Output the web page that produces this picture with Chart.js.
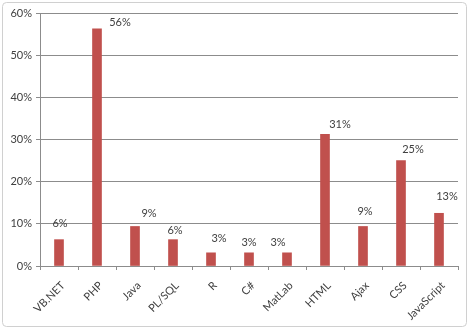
<!DOCTYPE html>
<html>
<head>
<meta charset="utf-8">
<script src="https://cdn.jsdelivr.net/npm/chart.js@4/dist/chart.umd.min.js"></script>
<style>
  html, body { margin: 0; padding: 0; background: #ffffff; }
  #wrap { width: 469px; height: 329px; position: relative; }
</style>
</head>
<body>
<div id="wrap"><canvas id="c" width="469" height="329"></canvas></div>
<script>
const categories = ["VB.NET", "PHP", "Java", "PL/SQL", "R", "C#", "MatLab", "HTML", "Ajax", "CSS", "JavaScript"];
const shareValues = [6.25, 56.25, 9.375, 6.25, 3.125, 3.125, 3.125, 31.25, 9.375, 25, 12.5];
const valueLabels = ["6%", "56%", "9%", "6%", "3%", "3%", "3%", "31%", "9%", "25%", "13%"];
const yTickLabels = ["0%", "10%", "20%", "30%", "40%", "50%", "60%"];

const FONT = "Lato, 'Open Sans', 'Liberation Sans', sans-serif";
const TEXT = "#404040";

const frame = {
  id: 'frame',
  beforeDraw(chart) {
    const c = chart.ctx;
    c.save();
    c.fillStyle = '#ffffff';
    c.fillRect(0, 0, chart.width, chart.height);
    c.strokeStyle = '#d0d0d0';
    c.lineWidth = 1;
    const x = 2.5, y = 2.5, w = chart.width - 5, h = chart.height - 5, r = 4;
    c.beginPath();
    c.moveTo(x + r, y);
    c.arcTo(x + w, y, x + w, y + h, r);
    c.arcTo(x + w, y + h, x, y + h, r);
    c.arcTo(x, y + h, x, y, r);
    c.arcTo(x, y, x + w, y, r);
    c.closePath();
    c.stroke();
    c.restore();
  }
};

const barLabels = {
  id: 'barLabels',
  afterDatasetsDraw(chart, args, opts) {
    const c = chart.ctx;
    const meta = chart.getDatasetMeta(0);
    c.save();
    c.font = "11px " + FONT;
    c.fillStyle = TEXT;
    c.textAlign = 'center';
    c.textBaseline = 'middle';
    meta.data.forEach((bar, i) => {
      const off = opts.offsets[i] || [0, -12];
      c.fillText(valueLabels[i], bar.x + off[0], bar.y + off[1]);
    });
    c.restore();
  }
};

new Chart(document.getElementById('c'), {
  type: 'bar',
  data: {
    labels: categories,
    datasets: [{
      data: shareValues,
      backgroundColor: '#c0504d',
      borderWidth: 0,
      barThickness: 9
    }]
  },
  plugins: [frame, barLabels],
  options: {
    responsive: false,
    devicePixelRatio: 1,
    animation: false,
    layout: { padding: { left: 0, right: 11, top: 13, bottom: 0 } },
    plugins: {
      legend: { display: false },
      tooltip: { enabled: false },
      barLabels: {
        offsets: [[1, -16], [23, -6], [14, -13], [2, -9], [8, -14], [0, -10], [-9, -10], [15, -10], [2, -15], [12, -11], [8, -17]]
      }
    },
    scales: {
      y: {
        min: 0, max: 60,
        afterFit(s) { s.width = 40; },
        ticks: {
          stepSize: 10,
          color: TEXT,
          font: { size: 11, family: FONT },
          padding: 4,
          callback: (v) => yTickLabels[Math.round(v / 10)]
        },
        grid: { color: '#8c8c8c', lineWidth: 1, tickLength: 4, drawTicks: true },
        border: { display: true, color: '#8c8c8c' }
      },
      x: {
        afterFit(s) { s.height = 63; },
        ticks: {
          color: TEXT,
          font: { size: 11, family: FONT },
          minRotation: 45, maxRotation: 45,
          autoSkip: false,
          padding: 9,
          labelOffset: 4
        },
        grid: { offset: true, drawOnChartArea: false, drawTicks: true, tickLength: 4, color: '#8c8c8c' },
        border: { display: true, color: '#8c8c8c' }
      }
    }
  }
});
</script>
</body>
</html>
